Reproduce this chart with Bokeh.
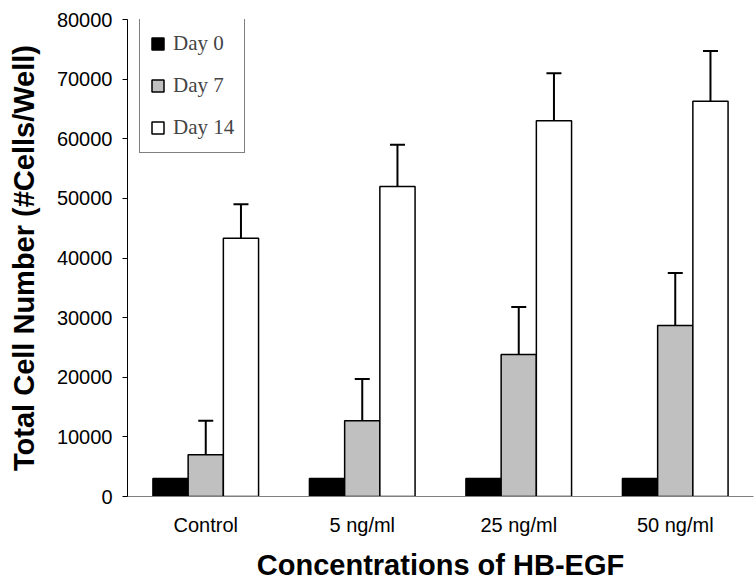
from bokeh.plotting import figure
from bokeh.models import (ColumnDataSource, FactorRange, Whisker, TeeHead, Legend, LegendItem,
                          Range1d, SingleIntervalTicker, Title)
from bokeh.transform import dodge
from bokeh.embed import file_html
from bokeh.resources import INLINE

# Cell counts per HB-EGF concentration, mean and upper error
categories = ["Control", "5 ng/ml", "25 ng/ml", "50 ng/ml"]
day0 = [3000, 3000, 3000, 3000]
day7 = [7000, 12700, 23800, 28700]
day7_err = [5700, 7000, 8000, 8800]
day14 = [43300, 52000, 63000, 66300]
day14_err = [5700, 7000, 8000, 8400]

src = ColumnDataSource(dict(
    cat=categories,
    day0=day0,
    day7=day7,
    day7_up=[v + e for v, e in zip(day7, day7_err)],
    day14=day14,
    day14_up=[v + e for v, e in zip(day14, day14_err)],
))

p = figure(
    x_range=FactorRange(*categories, range_padding=0),
    y_range=Range1d(0, 80000),
    width=756, height=588,
    min_border_left=127, min_border_right=3,
    min_border_top=19, min_border_bottom=92,
    output_backend="svg", toolbar_location=None,
)
p.outline_line_color = None
p.xgrid.grid_line_color = None
p.ygrid.grid_line_color = None

bw = 0.225
r0 = p.vbar(x=dodge("cat", -bw, range=p.x_range), top="day0", width=bw, source=src,
            fill_color="black", line_color="black", line_width=1.5)
r7 = p.vbar(x=dodge("cat", 0, range=p.x_range), top="day7", width=bw, source=src,
            fill_color="#c0c0c0", line_color="black", line_width=1.5)
r14 = p.vbar(x=dodge("cat", bw, range=p.x_range), top="day14", width=bw, source=src,
             fill_color="white", line_color="black", line_width=1.5)

for off, lo, up in [(0, "day7", "day7_up"), (bw, "day14", "day14_up")]:
    w = Whisker(base=dodge("cat", off, range=p.x_range), lower=lo, upper=up, source=src,
                upper_head=TeeHead(size=15, line_width=2, line_color="black"),
                lower_head=None, line_width=2, line_color="black")
    p.add_layout(w)

# y axis
p.yaxis.ticker = SingleIntervalTicker(interval=10000, num_minor_ticks=0)
p.yaxis.major_tick_in = 0
p.yaxis.major_tick_out = 5
p.yaxis.minor_tick_line_color = None
p.yaxis.axis_line_color = "black"
p.yaxis.major_tick_line_color = "black"
p.yaxis.major_label_text_font = "Liberation Sans"
p.yaxis.major_label_text_font_size = "20px"
p.yaxis.major_label_text_color = "black"
p.yaxis.major_label_standoff = 10
p.yaxis.axis_label = "Total Cell Number (#Cells/Well)"
p.yaxis.axis_label_text_font = "Liberation Sans"
p.yaxis.axis_label_text_font_style = "bold"
p.yaxis.axis_label_text_font_size = "29px"
p.yaxis.axis_label_text_color = "black"
p.yaxis.axis_label_standoff = 14

# x axis
p.xaxis.axis_line_color = "#808080"
p.xaxis.major_tick_line_color = None
p.xaxis.minor_tick_line_color = None
p.xaxis.major_label_text_font = "Liberation Sans"
p.xaxis.major_label_text_font_size = "20px"
p.xaxis.major_label_text_color = "black"
p.xaxis.major_label_standoff = 11

# x title below the category labels
p.add_layout(Title(
    text="Concentrations of HB-EGF", align="center",
    text_font="Liberation Sans", text_font_style="bold",
    text_font_size="29px", text_color="black", standoff=16,
), "below")

legend = Legend(
    items=[LegendItem(label="Day 0", renderers=[r0]),
           LegendItem(label="Day 7", renderers=[r7]),
           LegendItem(label="Day 14", renderers=[r14])],
    location=(12, 343),
    border_line_color="black", border_line_width=1,
    background_fill_alpha=1,
    label_text_font="Liberation Serif", label_text_font_size="21px",
    label_height=30,
    glyph_width=15, glyph_height=15, label_standoff=8,
    spacing=12, padding=10, margin=0,
)
p.add_layout(legend)

open("out.html", "w").write(file_html(p, INLINE))
